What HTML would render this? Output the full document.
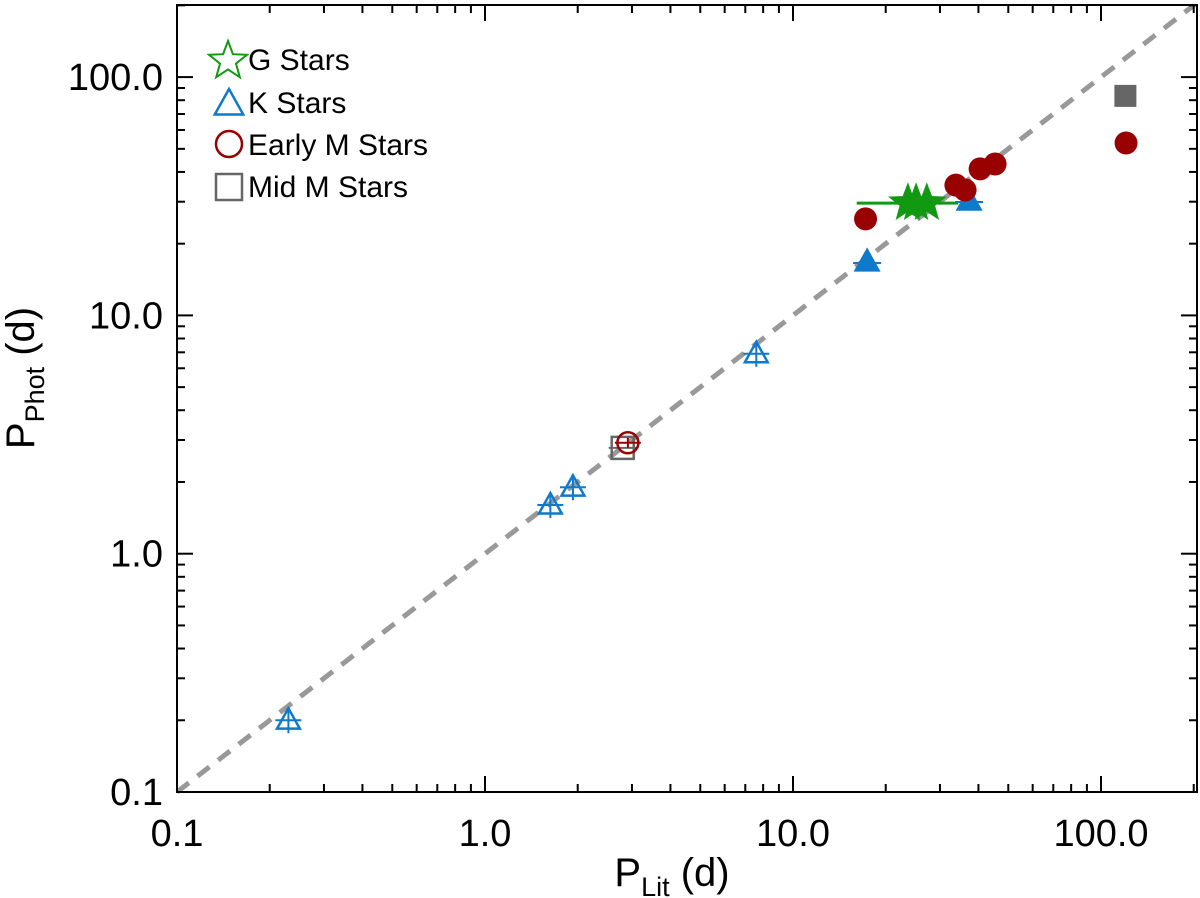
<!DOCTYPE html>
<html><head><meta charset="utf-8"><style>
html,body{margin:0;padding:0;background:#fff;}
svg{display:block;font-family:"Liberation Sans",Arial,sans-serif;}
</style></head><body>
<svg id="chart" width="1200" height="898" viewBox="0 0 1200 898" xmlns="http://www.w3.org/2000/svg"></svg>
<script>
// ---- data ----
const kOpenX = [0.23, 1.63, 1.93, 7.6];
const kOpenY = [0.2, 1.6, 1.9, 6.9];
const kFilledX = [17.4, 37.3];
const kFilledY = [16.6, 29.9];
const emOpenX = [2.91];
const emOpenY = [2.92];
const emFilledX = [17.2, 33.8, 36.2, 40.5, 45.3, 120.6];
const emFilledY = [25.4, 35.2, 33.6, 41.2, 43.2, 52.9];
const mmOpenX = [2.8];
const mmOpenY = [2.78];
const mmFilledX = [120];
const mmFilledY = [83.4];
const gX = [23.6, 25.1, 27.2];
const gY = [29.6, 29.6, 29.6];
const gErrLo = [16.1];
const gErrHi = [34.4];
const xTickLabels = ["0.1", "1.0", "10.0", "100.0"];
const yTickLabels = ["0.1", "1.0", "10.0", "100.0"];

// ---- axes ----
const X0 = 177, XR = 1197, YB = 792, YT = 5;
const dX = 308, dY = 238.3;
const sx = v => X0 + dX * Math.log10(v / 0.1);
const sy = v => YB - dY * Math.log10(v / 0.1);
const svg = document.getElementById('chart');
const NS = 'http://www.w3.org/2000/svg';
function mk(tag, attrs, parent) {
  const e = document.createElementNS(NS, tag);
  for (const k in attrs) e.setAttribute(k, attrs[k]);
  (parent || svg).appendChild(e);
  return e;
}

const dl = mk('line', {x1: sx(0.1), y1: sy(0.1), x2: sx(200), y2: sy(200), stroke: '#999', 'stroke-width': 5, 'stroke-dasharray': '15,11'});



const fr = mk('rect', {x: X0, y: YT, width: XR - X0, height: YB - YT, fill: 'none', stroke: '#000', 'stroke-width': 2});



const tg = mk('g', {stroke: '#000', 'stroke-width': 2});


for (let d = 0; d < 4; d++) {
  for (let m = 1; m <= 9; m++) {
    const v = 0.1 * Math.pow(10, d) * m;
    if (v > 200.0001) continue;
    const len = m === 1 ? 16 : 8;
    const x = sx(v), y = sy(v);
    if (x <= XR) {
      mk('line', {x1: x, y1: YB, x2: x, y2: YB - len}, tg);
      mk('line', {x1: x, y1: YT, x2: x, y2: YT + len}, tg);
    }
    if (y >= YT) {
      mk('line', {x1: X0, y1: y, x2: X0 + len, y2: y}, tg);
      mk('line', {x1: XR, y1: y, x2: XR - len, y2: y}, tg);
    }
  }
}
xTickLabels.forEach((t, i) => {
  const e = mk('text', {x: sx(parseFloat(t)), y: 846, 'font-size': 38, 'text-anchor': 'middle', fill: '#000'});
  e.textContent = t;
  
  
});
yTickLabels.forEach((t, i) => {
  const e = mk('text', {x: 163, y: sy(parseFloat(t)) + 13, 'font-size': 38, 'text-anchor': 'end', fill: '#000'});
  e.textContent = t;
  
  
});
const xt = mk('text', {x: 672, y: 886, 'font-size': 40, 'text-anchor': 'middle', fill: '#000'});
xt.innerHTML = 'P<tspan font-size="27" dy="10">Lit</tspan><tspan dy="-10"> (d)</tspan>';


const yt = mk('text', {x: 0, y: 0, 'font-size': 40, 'text-anchor': 'middle', fill: '#000', transform: 'translate(34,378) rotate(-90)'});
yt.innerHTML = 'P<tspan font-size="27" dy="10">Phot</tspan><tspan dy="-10"> (d)</tspan>';



function tri(x, y, r, fill, stroke) {
  return mk('polygon', {points: `${x},${y - r} ${x - r * 0.95},${y + r * 0.7} ${x + r * 0.95},${y + r * 0.7}`, fill: fill, stroke: stroke, 'stroke-width': 2.5});
}
function star(x, y, R, fill, stroke) {
  let p = [];
  for (let i = 0; i < 10; i++) {
    const r = i % 2 ? R * 0.42 : R;
    const a = -Math.PI / 2 + i * Math.PI / 5;
    p.push((x + r * Math.cos(a)).toFixed(1) + ',' + (y + r * Math.sin(a)).toFixed(1));
  }
  return mk('polygon', {points: p.join(' '), fill: fill, stroke: stroke, 'stroke-width': 2});
}
const blue = '#0f7acb', red = '#990000', gray = '#666', green = '#119911';

gErrLo.forEach((lo, i) => {
  const e = mk('line', {x1: sx(lo), y1: sy(gY[i]), x2: sx(gErrHi[i]), y2: sy(gY[i]), stroke: green, 'stroke-width': 3});
  
  
});
kOpenX.forEach((v, i) => {
  const x = sx(v), y = sy(kOpenY[i]);
  const g = mk('g', {});
  
  
  mk('line', {x1: x - 13, y1: y, x2: x + 13, y2: y, stroke: blue, 'stroke-width': 2}, g);
  mk('line', {x1: x, y1: y - 13, x2: x, y2: y + 13, stroke: blue, 'stroke-width': 2}, g);
  g.appendChild(tri(x, y, 12, 'none', blue));
});
mmOpenX.forEach((v, i) => {
  const x = sx(v), y = sy(mmOpenY[i]);
  const g = mk('g', {});
  
  
  mk('rect', {x: x - 11, y: y - 11, width: 22, height: 22, fill: 'none', stroke: gray, 'stroke-width': 2.5}, g);
  mk('line', {x1: x - 14, y1: y, x2: x + 14, y2: y, stroke: gray, 'stroke-width': 2}, g);
});
emOpenX.forEach((v, i) => {
  const x = sx(v), y = sy(emOpenY[i]);
  const g = mk('g', {});
  
  
  mk('circle', {cx: x, cy: y, r: 10.5, fill: 'none', stroke: red, 'stroke-width': 2.5}, g);
  mk('line', {x1: x - 13, y1: y, x2: x + 13, y2: y, stroke: red, 'stroke-width': 2}, g);
  mk('line', {x1: x, y1: y - 5, x2: x, y2: y + 5, stroke: red, 'stroke-width': 2}, g);
});
kFilledX.forEach((v, i) => {
  const x = sx(v), y = sy(kFilledY[i]);
  const g = mk('g', {});
  
  
  mk('line', {x1: x - 14, y1: y, x2: x + 14, y2: y, stroke: blue, 'stroke-width': 2}, g);
  g.appendChild(tri(x, y - 1, 12, blue, blue));
});
emFilledX.forEach((v, i) => {
  const x = sx(v), y = sy(emFilledY[i]);
  const c = mk('circle', {cx: x, cy: y, r: 11.5, fill: red});
  
  
});
mmFilledX.forEach((v, i) => {
  const x = sx(v), y = sy(mmFilledY[i]);
  const r = mk('rect', {x: x - 11, y: y - 11, width: 22, height: 22, fill: gray});
  
  
});
gX.forEach((v, i) => {
  const s = star(sx(v), sy(gY[i]), 18, green, green);
  
  
});

const lg = mk('g', {});


const ly = [59, 102, 144, 186];
const labels = ['G Stars', 'K Stars', 'Early M Stars', 'Mid M Stars'];
lg.appendChild(star(228, ly[0] + 2, 20, 'none', green));
lg.appendChild(tri(229, ly[1] + 2, 15, 'none', blue));
mk('circle', {cx: 229, cy: ly[2], r: 13, fill: 'none', stroke: red, 'stroke-width': 2.5}, lg);
mk('rect', {x: 216, y: ly[3] - 12, width: 26, height: 26, fill: 'none', stroke: gray, 'stroke-width': 2.5}, lg);
labels.forEach((t, i) => {
  const e = mk('text', {x: 248, y: ly[i] + 11, 'font-size': 30, fill: '#000'}, lg);
  e.textContent = t;
  
  
});
</script>
</body></html>
